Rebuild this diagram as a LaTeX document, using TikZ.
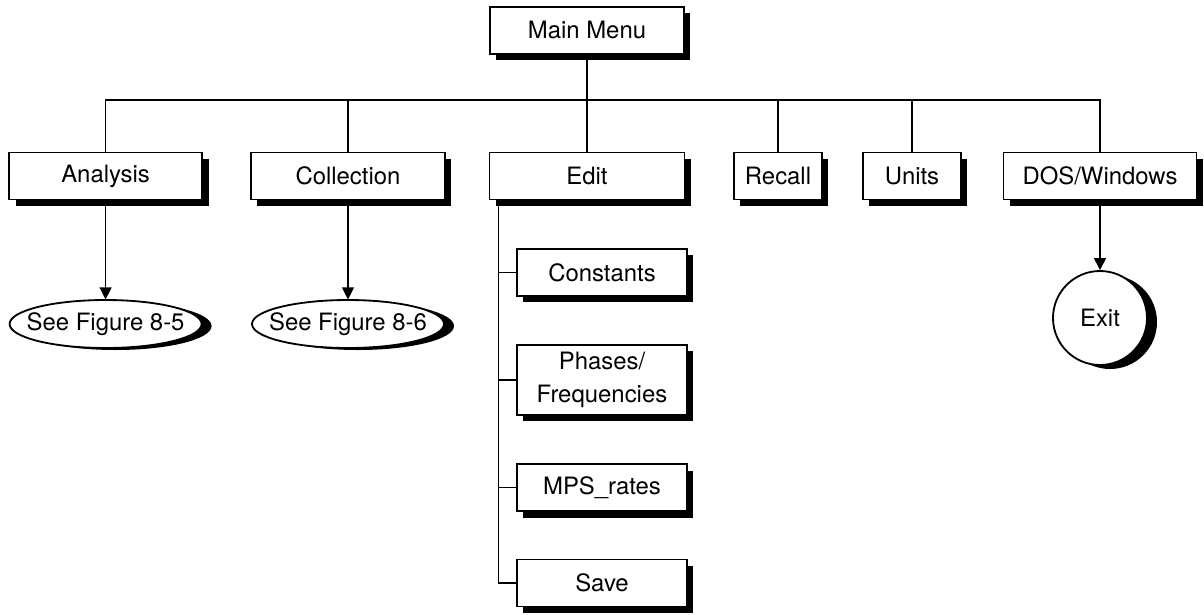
\documentclass[tikz,border=0pt]{standalone}
\usepackage{fontspec}
\setmainfont{TeX Gyre Heros}
\usetikzlibrary{shadows,arrows.meta}
\begin{document}
\begin{tikzpicture}[menubox/.style={draw, line width=1.3pt, fill=white, minimum height=1.175cm, align=center, drop shadow={shadow xshift=0.16cm, shadow yshift=-0.16cm, fill=black, opacity=1}}, oval/.style={minimum width=4.8cm, minimum height=1.2cm, inner sep=0pt}, ovalline/.style={draw, line width=1.3pt, fill=white, drop shadow={shadow xshift=0.25cm, shadow yshift=-0.05cm, fill=black, opacity=1}}, exitbox/.style={circle, draw, line width=1.3pt, fill=white, minimum size=2.35cm, drop shadow={shadow xshift=0.25cm, shadow yshift=-0.1cm, fill=black, opacity=1}}, line width=0.8pt, >={Triangle[width=8.5pt,length=8.5pt]}, font=\fontsize{17}{23}\selectfont]
	\useasboundingbox (0,0) rectangle (30.1,-15.35);
	\node[menubox, minimum width=4.85cm] (MM) at (14.675,-0.76) {Main Menu};
	\node[menubox, minimum width=4.825cm] (A) at (2.64,-4.4) {Analysis};
	\node[menubox, minimum width=4.85cm] (C) at (8.7,-4.4) {Collection};
	\node[menubox, minimum width=4.875cm] (E) at (14.675,-4.4) {Edit};
	\node[menubox, minimum width=2.2cm] (R) at (19.45,-4.4) {Recall};
	\node[menubox, minimum width=2.45cm] (U) at (22.8,-4.4) {Units};
	\node[menubox, minimum width=4.825cm] (D) at (27.5,-4.4) {DOS/Windows};
	\node[menubox, minimum width=4.25cm] (K) at (15.05,-6.81) {Constants};
	\node[menubox, minimum width=4.25cm, minimum height=1.75cm] (P) at (15.05,-9.5) {Phases/\\Frequencies};
	\node[menubox, minimum width=4.25cm] (MR) at (15.05,-12.19) {MPS\_rates};
	\node[menubox, minimum width=4.25cm] (S) at (15.05,-14.575) {Save};
	\draw[ovalline] (2.64,-8.1) ellipse [x radius=2.4cm, y radius=0.6cm];
	\draw[ovalline] (8.7,-8.1) ellipse [x radius=2.4cm, y radius=0.6cm];
	\node[oval] (F5) at (2.64,-8.1) {See Figure 8-5};
	\node[oval] (F6) at (8.7,-8.1) {See Figure 8-6};
	\node[exitbox] (X) at (27.5,-7.95) {Exit};
	\coordinate (bus) at (14.675,-2.5);
	\draw (MM) -- (bus);
	\foreach \n in {A,C,E,R,U,D}
		\draw (\n) |- (bus);
	\coordinate (e) at ([xshift=0.25cm]E.south west);
	\foreach \n in {K,P,MR,S}
		\draw (e) |- (\n);
	\draw[->] (A) -- (F5);
	\draw[->] (C) -- (F6);
	\draw[->] (D) -- (X);
\end{tikzpicture}
\end{document}
